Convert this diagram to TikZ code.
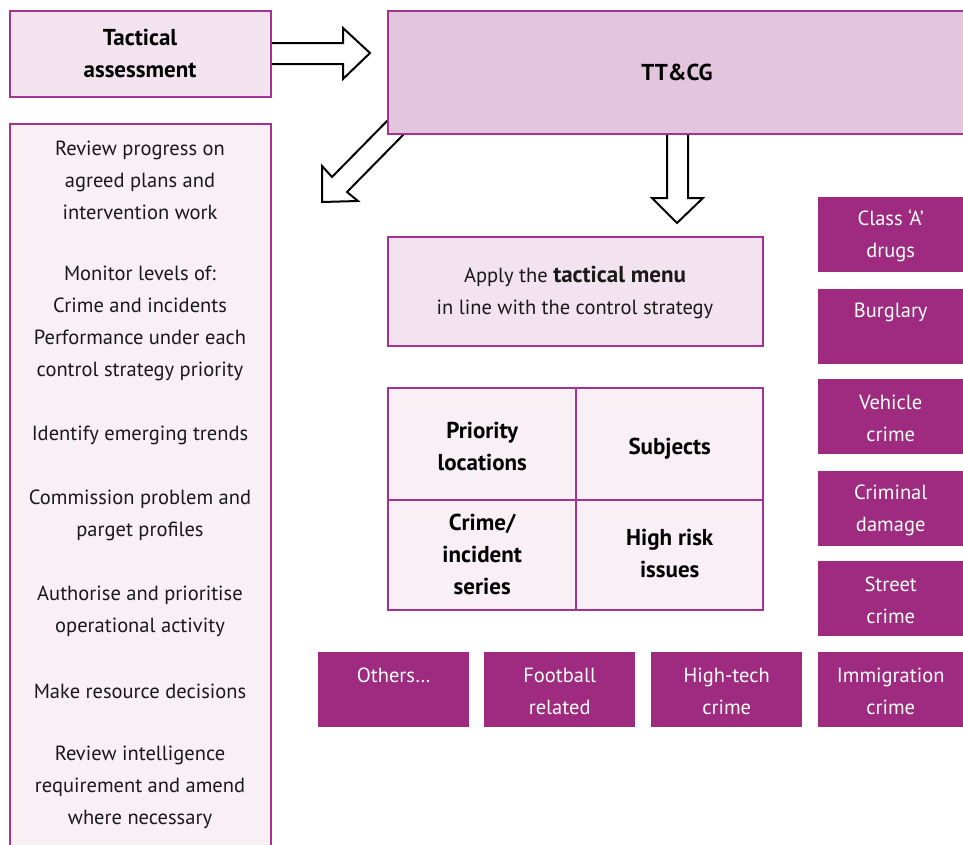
\documentclass[tikz,border=0pt]{standalone}
\usepackage{fontspec}
\setmainfont{PT Sans}
\newcommand\strongpart[1]{{\bfseries\fontsize{23}{32}\selectfont #1}}
\begin{document}
\definecolor{plum}{HTML}{A3338F}
\definecolor{plumbox}{HTML}{9E2B80}
\definecolor{pinkA}{HTML}{F2E3EE}
\definecolor{pinkB}{HTML}{E3C6DE}
\definecolor{pinkC}{HTML}{F8F0F5}
\begin{tikzpicture}[x=1pt,y=-1pt,
  frame/.style={draw=plum,line width=2.4pt,anchor=north west,inner sep=0pt,outer sep=0pt},
  tag/.style={fill=plumbox,anchor=north west,inner sep=0pt,minimum width=151pt,minimum height=75pt},
  tagtext/.style={text=white,font=\fontsize{20.5}{32}\selectfont,align=center},
  body/.style={font=\fontsize{20.5}{32}\selectfont,align=center,text=black!90},
  bodybold/.style={font=\bfseries\fontsize{23}{32}\selectfont,align=center}]
\tikzset{bigarrow/.style={draw=black,fill=white,line width=2pt,line join=miter}}
\clip (0,0) rectangle (963,844);
\useasboundingbox (0,0) rectangle (963,844);
\fill[white] (0,0) rectangle (963,844);

% hollow arrows
\draw[bigarrow] (272,43) -- (343,43) -- (343,28) -- (370,53) -- (343,79) -- (343,64) -- (272,64);
\draw[bigarrow] (667,130) -- (667,198) -- (652,198) -- (677,223) -- (703,198) -- (688,198) -- (688,130);
\draw[bigarrow] (390,118) -- (332,177) -- (322,166) -- (322,202) -- (358,201) -- (347,192) -- (405,133);

% boxes (outer edges as drawn; the frame line sits 1.2pt inside)
\node[frame,fill=pinkA,minimum width=260.6pt,minimum height=85.6pt] (ta) at (10.2,11.2) {};
\node[bodybold] at (140,53) {Tactical\\assessment};

\node[frame,fill=pinkB,minimum width=600pt,minimum height=122.6pt] (tt) at (388.2,11.2) {};
\node[bodybold] at (677,72) {TT\&CG};

\node[frame,fill=pinkC,minimum width=260.6pt,minimum height=740pt] (col) at (10.2,124.2) {};
\node[body] at (140,180) {Review progress on\\agreed plans and\\intervention work};
\node[body] at (140,323) {Monitor levels of:\\Crime and incidents\\Performance under each\\control strategy priority};
\node[body] at (140,435) {Identify emerging trends};
\node[body] at (140,515) {Commission problem and\\parget profiles};
\node[body] at (140,611) {Authorise and prioritise\\operational activity};
\node[body] at (140,691) {Make resource decisions};
\node[body] at (140,787) {Review intelligence\\requirement and amend\\where necessary};

\node[frame,fill=pinkA,minimum width=374.6pt,minimum height=108.6pt] (menu) at (388.2,237.2) {};
\node[body] at (575,292) {Apply the \strongpart{tactical menu}\\in line with the control strategy};

% grid of targets
\node[frame,fill=pinkC,minimum width=188pt,minimum height=112pt] (g1) at (388.2,388.2) {};
\node[frame,fill=pinkC,minimum width=187pt,minimum height=112pt] (g2) at (576.2,388.2) {};
\node[frame,fill=pinkC,minimum width=188pt,minimum height=110pt] (g3) at (388.2,500.2) {};
\node[frame,fill=pinkC,minimum width=187pt,minimum height=110pt] (g4) at (576.2,500.2) {};
\node[bodybold] at ([yshift=-2]g1.center) {Priority\\locations};
\node[bodybold] at ([yshift=-4]g2.center) {Subjects};
\node[bodybold] at ([yshift=1]g3.center) {Crime/\\incident\\series};
\node[bodybold] at ([yshift=2]g4.center) {High risk\\issues};

% crime categories
\node[tag,minimum width=145pt] (c1) at (818,197) {};
\node[tag,minimum width=145pt] (c2) at (818,289) {};
\node[tag,minimum width=145pt] (c3) at (818,379) {};
\node[tag,minimum width=145pt] (c4) at (818,471) {};
\node[tag,minimum width=145pt] (c5) at (818,561) {};
\node[tag,minimum width=145pt] (c6) at (818,652) {};
\node[tag] (b1) at (318,652) {};
\node[tag] (b2) at (484,652) {};
\node[tag] (b3) at (651,652) {};

\node[tagtext] at ([yshift=-39]c1.north) {Class ‘A’\\drugs};
\node[tagtext] at ([yshift=-23]c2.north) {Burglary};
\node[tagtext] at ([yshift=-39]c3.north) {Vehicle\\crime};
\node[tagtext] at ([yshift=-39]c4.north) {Criminal\\damage};
\node[tagtext] at ([yshift=-39]c5.north) {Street\\crime};
\node[tagtext] at ([yshift=-39]c6.north) {Immigration\\crime};
\node[tagtext] at ([yshift=-23]b1.north) {Others…};
\node[tagtext] at ([yshift=-39]b2.north) {Football\\related};
\node[tagtext] at ([yshift=-39]b3.north) {High-tech\\crime};
\end{tikzpicture}
\end{document}
